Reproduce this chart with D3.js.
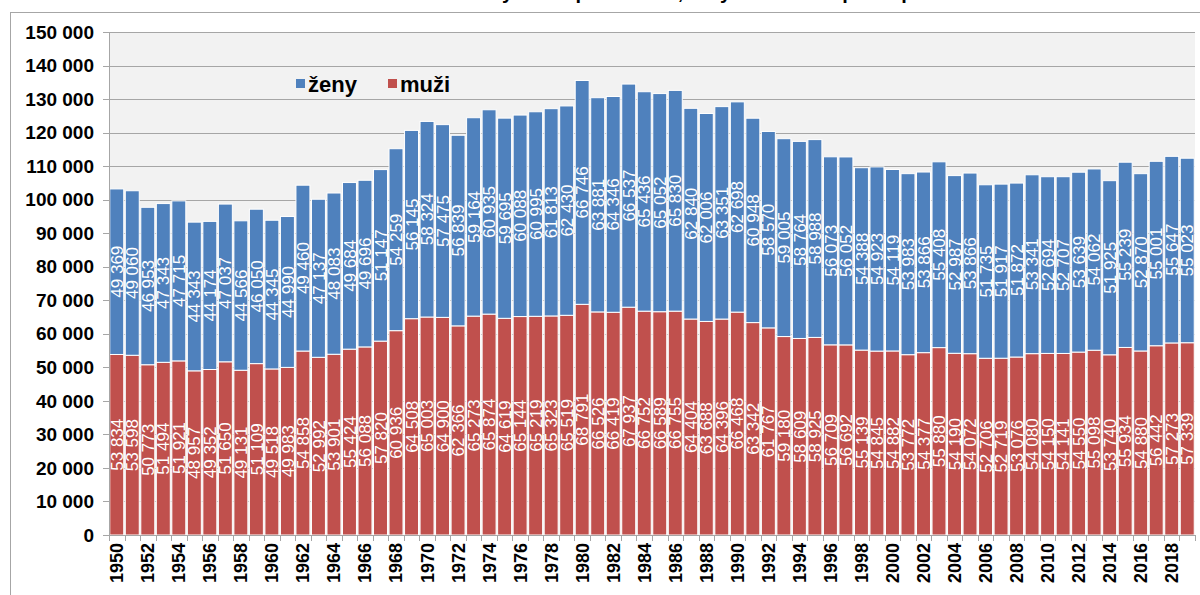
<!DOCTYPE html>
<meta charset="utf-8">
<style>
    body { margin: 0; background: #fff; }
    svg { display: block; font-family: "Liberation Sans", Arial, sans-serif; }
    .ylab text, .xlab text { font-weight: bold; fill: #000; }
    .vals text { fill: #fff; font-size: 17px; }
</style>
<svg width="1200" height="595"></svg>
<script src="https://cdn.jsdelivr.net/npm/d3@7"></script>
<script>

    // data
    var years = d3.range(1950, 2020);
    var zeny = [49369, 49060, 46953, 47343, 47715, 44343, 44174, 47037, 44566, 46050,
        44345, 44990, 49460, 47137, 48083, 49684, 49696, 51147, 54259, 56145,
        58324, 57475, 56839, 59164, 60935, 59695, 60088, 60995, 61813, 62430,
        66746, 63881, 64346, 66537, 65436, 65052, 65830, 62840, 62006, 63351,
        62698, 60948, 58570, 59005, 58764, 58988, 56073, 56052, 54388, 54923,
        54119, 53983, 53866, 55408, 52987, 53866, 51735, 51917, 51872, 53341,
        52694, 52707, 53639, 54062, 51925, 55239, 52870, 55001, 55647, 55023];
    var muzi = [53834, 53598, 50773, 51494, 51921, 48957, 49352, 51650, 49131, 51109,
        49518, 49983, 54858, 52992, 53901, 55424, 56088, 57820, 60936, 64508,
        65003, 64900, 62366, 65273, 65874, 64619, 65144, 65219, 65323, 65519,
        68791, 66526, 66419, 67937, 66752, 66589, 66755, 64404, 63688, 64396,
        66468, 63342, 61767, 59180, 58609, 58925, 56709, 56692, 55139, 54845,
        54882, 53772, 54377, 55880, 54190, 54072, 52706, 52719, 53076, 54080,
        54150, 54141, 54550, 55098, 53740, 55934, 54880, 56442, 57273, 57339];
    var yTicks = d3.range(0, 150001, 10000);
    var seriesNames = ["ženy", "muži"];
    var colors = {"ženy": "#4f81bd", "muži": "#c0504d"};

    var svg = d3.select("svg");
    var fmt = function (v) { return d3.format(",")(v).replace(/,/g, " "); };

    var plotL = 109, plotR = 1195, plotT = 32, plotB = 535;

    // outer frame
    svg.append("rect").attr("x", 10.5).attr("y", 12.5).attr("width", 1200).attr("height", 600)
        .attr("fill", "#fff").attr("stroke", "#a6a6a6");

    // title, cut off at the top as in the source
    svg.append("text").attr("x", 650).attr("y", -1).attr("text-anchor", "middle")
        .attr("font-size", 20).attr("font-weight", "bold")
        .text("Živě narození dívky a chlapci celkem, roky 1950–2019 podle pohlaví");

    svg.append("rect").attr("x", plotL).attr("y", plotT).attr("width", plotR - plotL).attr("height", plotB - plotT)
        .attr("fill", "#f2f2f2");

    var x = d3.scaleBand().domain(years).range([plotL, plotR]).paddingInner(0.1).paddingOuter(0.05);
    var y = d3.scaleLinear().domain([0, 150000]).range([plotB, plotT]);

    // grid
    svg.append("g").selectAll("line").data(yTicks).enter().append("line")
        .attr("x1", plotL - 6).attr("x2", plotR)
        .attr("y1", d => Math.round(y(d)) + 0.5).attr("y2", d => Math.round(y(d)) + 0.5)
        .attr("stroke", "#a6a6a6").attr("stroke-width", 1);

    svg.append("g").attr("class", "ylab").selectAll("text").data(yTicks).enter().append("text")
        .attr("x", 94).attr("y", d => y(d)).attr("dy", "0.35em").attr("text-anchor", "end")
        .attr("font-size", 19).text(fmt);

    var stack = years.map(function (yr, i) { return {year: yr, muzi: muzi[i], zeny: zeny[i]}; });

    var bars = svg.append("g");
    bars.selectAll("rect.m").data(stack).enter().append("rect").attr("class", "m")
        .attr("x", d => x(d.year)).attr("width", x.bandwidth())
        .attr("y", d => y(d.muzi)).attr("height", d => y(0) - y(d.muzi))
        .attr("fill", colors["muži"]).attr("stroke", "#fff").attr("stroke-width", 1);
    bars.selectAll("rect.z").data(stack).enter().append("rect").attr("class", "z")
        .attr("x", d => x(d.year)).attr("width", x.bandwidth())
        .attr("y", d => y(d.muzi + d.zeny)).attr("height", d => y(d.muzi) - y(d.muzi + d.zeny))
        .attr("fill", colors["ženy"]).attr("stroke", "#fff").attr("stroke-width", 1);

    var vals = svg.append("g").attr("class", "vals");
    vals.selectAll("text.m").data(stack).enter().append("text").attr("class", "m")
        .attr("transform", d => "translate(" + (x(d.year) + x.bandwidth() / 2) + "," + y(d.muzi / 2) + ") rotate(-90)")
        .attr("text-anchor", "middle").attr("dy", "0.36em").text(d => fmt(d.muzi));
    vals.selectAll("text.z").data(stack).enter().append("text").attr("class", "z")
        .attr("transform", d => "translate(" + (x(d.year) + x.bandwidth() / 2) + "," + y(d.muzi + d.zeny / 2) + ") rotate(-90)")
        .attr("text-anchor", "middle").attr("dy", "0.36em").text(d => fmt(d.zeny));

    // axes lines
    svg.append("line").attr("x1", plotL + 0.5).attr("x2", plotL + 0.5).attr("y1", plotT).attr("y2", plotB)
        .attr("stroke", "#a6a6a6");
    svg.append("line").attr("x1", plotL).attr("x2", plotR).attr("y1", plotB + 0.5).attr("y2", plotB + 0.5)
        .attr("stroke", "#a6a6a6");
    var step = x.step();
    svg.append("g").selectAll("line").data(d3.range(years.length + 1)).enter().append("line")
        .attr("x1", i => Math.round(plotL + i * step) + 0.5).attr("x2", i => Math.round(plotL + i * step) + 0.5)
        .attr("y1", plotB).attr("y2", plotB + 6).attr("stroke", "#a6a6a6");

    svg.append("g").attr("class", "xlab").selectAll("text").data(years.filter(d => d % 2 === 0)).enter().append("text")
        .attr("transform", d => "translate(" + (x(d) + x.bandwidth() / 2) + "," + (plotB + 8) + ") rotate(-90)")
        .attr("text-anchor", "end").attr("dy", "0.36em").attr("font-size", 18).text(d => d);

    // legend
    var leg = svg.append("g").attr("transform", "translate(296,84)");
    var items = leg.selectAll("g").data(seriesNames).enter().append("g")
        .attr("transform", (d, i) => "translate(" + (i * 92) + ",0)");
    items.append("rect").attr("x", 0).attr("y", -5).attr("width", 9).attr("height", 9)
        .attr("fill", d => colors[d]);
    items.append("text").attr("x", 12).attr("y", 0).attr("dy", "0.36em")
        .attr("font-size", 22).attr("font-weight", "bold").text(d => d);

</script>
